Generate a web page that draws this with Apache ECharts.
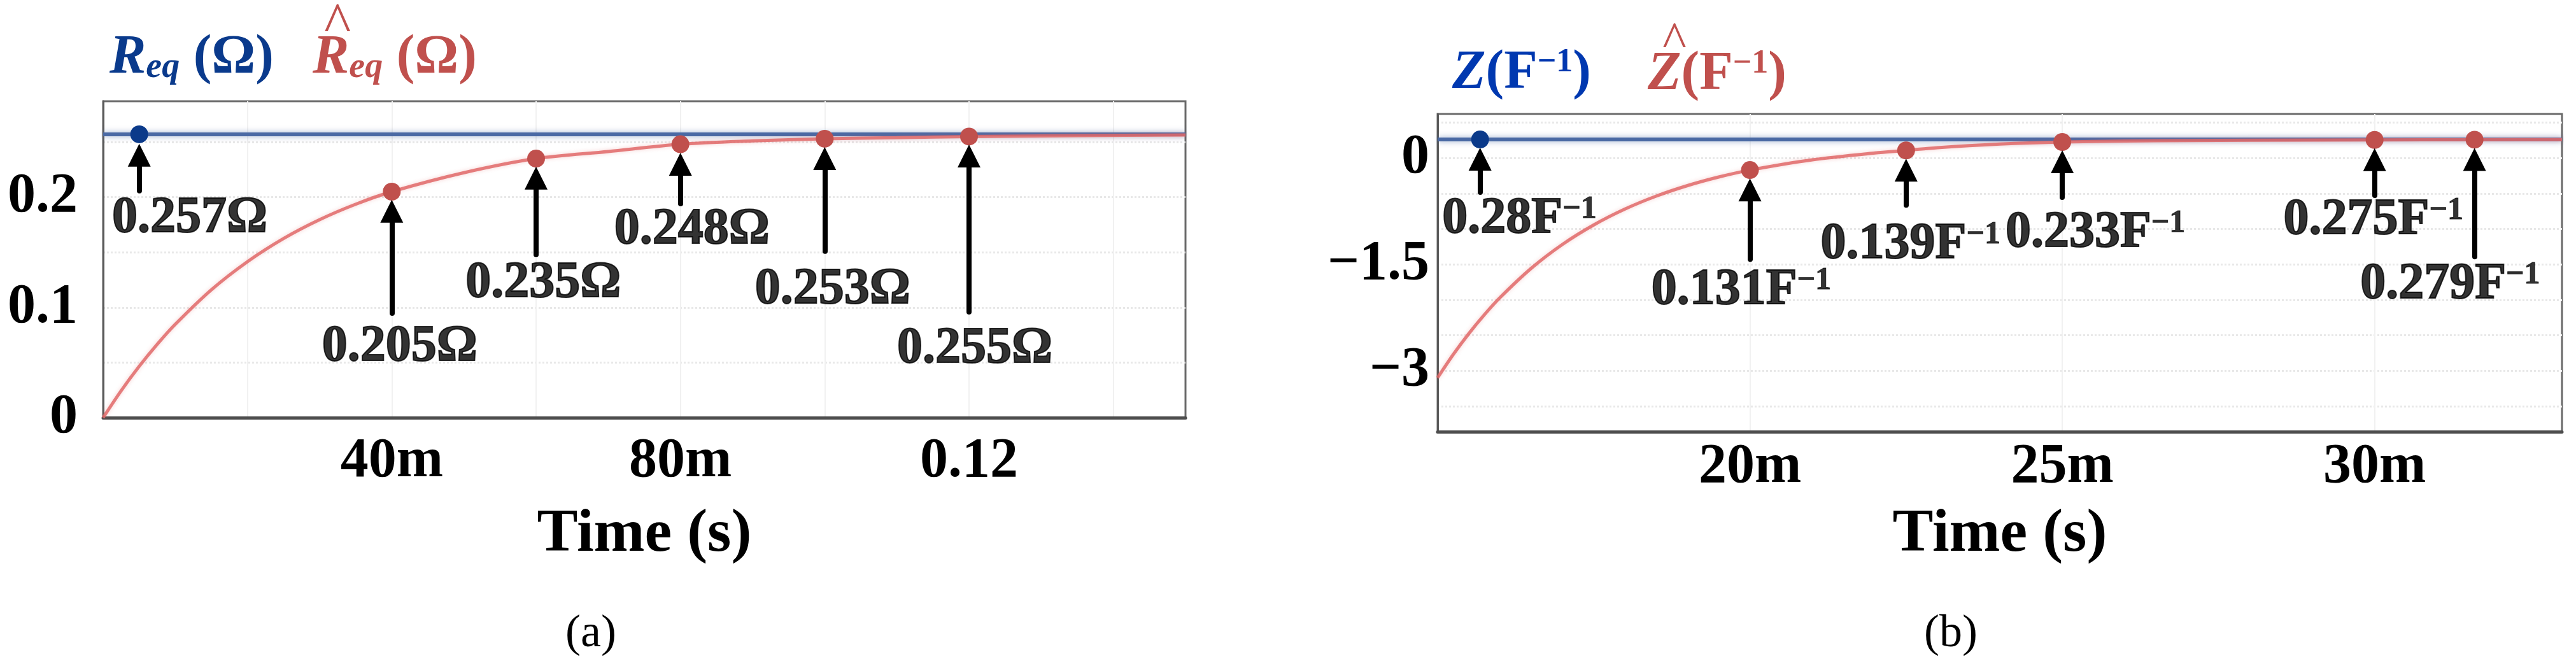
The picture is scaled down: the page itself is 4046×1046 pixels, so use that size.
<!DOCTYPE html>
<html>
<head>
<meta charset="utf-8">
<script src="https://cdn.jsdelivr.net/npm/echarts@6.0.0/dist/echarts.min.js"></script>
<style>
  html, body { margin: 0; padding: 0; background: #fff; }
  #chart { width: 4046px; height: 1046px; }
</style>
</head>
<body>
<div id="chart"></div>
<script>
// ---------- panel (a) : R_eq, time in ms ----------
const timeA = [0, 2.5, 5, 7.5, 10, 15, 20, 25, 30, 35, 40, 50, 60, 70, 80, 90, 100, 110, 120, 135, 150];
const rHatA = [0, 0.0245, 0.0466, 0.0666, 0.0847, 0.116, 0.1415, 0.1625, 0.1796, 0.1936, 0.205, 0.2222, 0.235, 0.2414, 0.248, 0.251, 0.253, 0.254, 0.255, 0.2558, 0.2564];
const reqTimeA = [0, 150];
const reqA = [0.257, 0.257];
// marked points (first one sits on the blue line)
const markTimeA = [5, 40, 60, 80, 100, 120];
const markValA = [0.257, 0.205, 0.235, 0.248, 0.253, 0.255];
const markTextA = ['0.257', '0.205', '0.235', '0.248', '0.253', '0.255'];
// arrow tail / head and label anchors, in data units
const arrowTailA = [0.2057, 0.0947, 0.1479, 0.1941, 0.1508, 0.0959];
const arrowHeadA = [0.238, 0.1872, 0.2172, 0.2299, 0.2351, 0.2374];
const labelTimeA = [12.0, 41.1, 61.0, 81.6, 101.1, 120.8];
const labelValA = [0.1808, 0.0641, 0.1219, 0.1704, 0.1161, 0.0624];
const xTicksA = [40, 80, 120];
const xTickTextA = ['40m', '80m', '0.12'];
const xGridA = [20, 40, 60, 80, 100, 120, 140];
const yTicksA = [0, 0.1, 0.2];
const yGridA = [0.05, 0.1, 0.15, 0.2, 0.25];

// ---------- panel (b) : Z, time in ms ----------
const timeB = [15, 15.25, 15.5, 15.75, 16, 16.5, 17, 17.5, 18, 18.5, 19, 19.5, 20, 21, 22, 22.5, 23, 24, 25, 26, 27, 28, 30, 31.6, 33];
const zHatB = [-3.1, -2.772, -2.476, -2.209, -1.968, -1.555, -1.218, -0.944, -0.72, -0.538, -0.39, -0.269, -0.171, -0.026, 0.07, 0.106, 0.145, 0.195, 0.225, 0.238, 0.245, 0.249, 0.254, 0.257, 0.259];
const zTimeB = [15, 33];
const zB = [0.26, 0.26];
const markTimeB = [15.68, 20, 22.5, 25, 30, 31.6];
const markValB = [0.26, -0.171, 0.106, 0.225, 0.254, 0.257];
const markTextB = ['0.28', '0.131', '0.139', '0.233', '0.275', '0.279'];
const arrowTailB = [-0.485, -1.429, -0.665, -0.557, -0.53, -1.393];
const arrowHeadB = [-0.018, -0.45, -0.172, -0.053, -0.024, -0.021];
const labelTimeB = [16.31, 19.86, 22.57, 25.53, 29.98, 31.21];
const labelValB = [-0.863, -1.869, -1.222, -1.06, -0.88, -1.788];
const xTicksB = [20, 25, 30];
const xTickTextB = ['20m', '25m', '30m'];
const xGridB = [20, 25, 30];
const yTicksB = [-3, -1.5, 0];
const yGridB = [-3.5, -3, -2.5, -2, -1.5, -1, -0.5, 0, 0.5];

const FONT = 'Liberation Serif';
const BLUE_LINE = '#4a69a4';
const BLUE_DOT = '#0b3a8a';
const RED_LINE = '#e06868';
const RED_DOT = '#c0504d';

var dom = document.getElementById('chart');
var myChart = echarts.init(dom, null, { renderer: 'canvas' });

function zip(xs, ys) {
  return xs.map(function (x, i) { return [x, ys[i]]; });
}

function xAxisOf(idx, min, max, ticks, texts, grid, margin, nameGap) {
  return {
    type: 'value', gridIndex: idx, min: min, max: max,
    name: 'Time (s)', nameLocation: 'middle', nameGap: nameGap,
    nameTextStyle: { fontFamily: FONT, fontWeight: 'bold', fontSize: 96, color: '#000' },
    axisLine: { show: true, onZero: false, lineStyle: { color: '#4d4d4d', width: 5 } },
    axisTick: { show: false, customValues: grid },
    axisLabel: {
      customValues: ticks, margin: margin,
      fontFamily: FONT, fontWeight: 'bold', fontSize: 88, color: '#000',
      formatter: function (v) { return texts[ticks.indexOf(v)]; }
    },
    splitLine: { show: true, lineStyle: { color: '#f1f1f1', width: 2 } }
  };
}

function yAxisOf(idx, min, max, ticks, grid, margin) {
  return {
    type: 'value', gridIndex: idx, min: min, max: max,
    axisLine: { show: true, onZero: false, lineStyle: { color: '#5a5a5a', width: 3 } },
    axisTick: { show: false, customValues: grid },
    axisLabel: {
      customValues: ticks, margin: margin,
      fontFamily: FONT, fontWeight: 'bold', fontSize: 88, color: '#000',
      formatter: function (v) { return String(v).replace('-', '\u2212'); }
    },
    splitLine: { show: true, lineStyle: { color: '#e8e8e8', width: 3, type: 'dotted' } }
  };
}

function dotSeries(idx, times, vals) {
  return {
    type: 'scatter', xAxisIndex: idx, yAxisIndex: idx, z: 4,
    symbolSize: 28, data: zip(times, vals),
    itemStyle: { color: function (p) { return p.dataIndex === 0 ? BLUE_DOT : RED_DOT; }, opacity: 1 },
    silent: true
  };
}

function annotSeries(idx, times, tails, heads, lTimes, lVals, fmt, rich) {
  return {
    type: 'scatter', xAxisIndex: idx, yAxisIndex: idx, z: 6,
    symbolSize: 1, itemStyle: { color: 'rgba(0,0,0,0)' },
    data: zip(lTimes, lVals),
    label: {
      show: true, position: [0.5, 0.5], align: 'center', verticalAlign: 'middle',
      color: '#000', textBorderColor: '#000', textBorderWidth: 2,
      fontFamily: FONT, fontWeight: 'bold', fontSize: 80,
      formatter: fmt, rich: rich
    },
    markLine: {
      silent: true, animation: false,
      symbol: ['none', 'triangle'], symbolSize: 36,
      label: { show: false },
      lineStyle: { color: '#000', width: 8, type: 'solid', cap: 'round' },
      emphasis: { disabled: true },
      data: times.map(function (t, i) {
        return [{ coord: [t, tails[i]] }, { coord: [t, heads[i]] }];
      })
    },
    silent: true
  };
}

const supRich = {
  v: { fontFamily: FONT, fontWeight: 'bold', fontSize: 80, lineHeight: 80, color: '#000', textBorderColor: '#000', textBorderWidth: 2 },
  s: { fontFamily: FONT, fontWeight: 'bold', fontSize: 50, lineHeight: 28, verticalAlign: 'top', color: '#000', textBorderColor: '#000', textBorderWidth: 1 }
};

function legendRich(color, sub) {
  return {
    r: { fontFamily: FONT, fontWeight: 'bold', fontStyle: 'italic', fontSize: 86, lineHeight: 86, fill: color },
    s: sub
      ? { fontFamily: FONT, fontWeight: 'bold', fontStyle: 'italic', fontSize: 56, lineHeight: 36, verticalAlign: 'bottom', fill: color }
      : { fontFamily: FONT, fontWeight: 'bold', fontSize: 52, lineHeight: 36, verticalAlign: 'top', fill: color },
    p: { fontFamily: FONT, fontWeight: 'bold', fontSize: 86, lineHeight: 86, fill: color }
  };
}

function legendText(x, y, text, color, sub) {
  return {
    type: 'text', x: x, y: y, z: 10, silent: true,
    style: { text: text, rich: legendRich(color, sub), align: 'left', verticalAlign: 'middle' }
  };
}

function plainText(x, y, text, color, size, weight) {
  return {
    type: 'text', x: x, y: y, z: 10, silent: true,
    style: {
      text: text, fill: color, align: 'center', verticalAlign: 'middle',
      font: weight + ' ' + size + 'px "' + FONT + '"'
    }
  };
}

var option = {
  backgroundColor: '#fff',
  animation: false,
  grid: [
    { left: 162, top: 159, width: 1700, height: 497, show: true, borderColor: '#6a6a6a', borderWidth: 3, outerBoundsMode: 'none' },
    { left: 2258, top: 179, width: 1766, height: 499, show: true, borderColor: '#6a6a6a', borderWidth: 3, outerBoundsMode: 'none' }
  ],
  xAxis: [
    xAxisOf(0, 0, 150, xTicksA, xTickTextA, xGridA, 25, 136),
    xAxisOf(1, 15, 33, xTicksB, xTickTextB, xGridB, 12, 114)
  ],
  yAxis: [
    yAxisOf(0, 0, 0.287, yTicksA, yGridA, 40),
    yAxisOf(1, -3.86, 0.62, yTicksB, yGridB, 13)
  ],
  series: [
    {
      type: 'line', xAxisIndex: 0, yAxisIndex: 0, z: 2, showSymbol: false, silent: true,
      data: zip(reqTimeA, reqA),
      lineStyle: { color: BLUE_LINE, width: 6, shadowColor: 'rgba(74,105,164,0.55)', shadowBlur: 10 }
    },
    {
      type: 'line', xAxisIndex: 0, yAxisIndex: 0, z: 3, showSymbol: false, silent: true, smooth: 0.3,
      data: zip(timeA, rHatA),
      lineStyle: { color: RED_LINE, width: 5, opacity: 0.85, shadowColor: 'rgba(224,104,104,0.35)', shadowBlur: 6 }
    },
    dotSeries(0, markTimeA, markValA),
    annotSeries(0, markTimeA, arrowTailA, arrowHeadA, labelTimeA, labelValA,
      function (p) { return markTextA[p.dataIndex] + '\u03A9'; }, null),
    {
      type: 'line', xAxisIndex: 1, yAxisIndex: 1, z: 2, showSymbol: false, silent: true,
      data: zip(zTimeB, zB),
      lineStyle: { color: BLUE_LINE, width: 6, shadowColor: 'rgba(74,105,164,0.55)', shadowBlur: 10 }
    },
    {
      type: 'line', xAxisIndex: 1, yAxisIndex: 1, z: 3, showSymbol: false, silent: true, smooth: 0.3,
      data: zip(timeB, zHatB),
      lineStyle: { color: RED_LINE, width: 5, opacity: 0.85, shadowColor: 'rgba(224,104,104,0.35)', shadowBlur: 6 }
    },
    dotSeries(1, markTimeB, markValB),
    annotSeries(1, markTimeB, arrowTailB, arrowHeadB, labelTimeB, labelValB,
      function (p) { return '{v|' + markTextB[p.dataIndex] + 'F}{s|\u22121}'; }, supRich)
  ],
  graphic: [
    // legend of (a)
    legendText(172, 92, '{r|R}{s|eq}{p| (\u03A9)}', '#0a3a8c', true),
    legendText(491, 92, '{r|R}{s|eq}{p| (\u03A9)}', RED_DOT, true),
    plainText(530, 42, '^', RED_DOT, 90, 'normal'),
    // legend of (b)
    legendText(2281, 116, '{r|Z}{p|(F}{s|\u22121}{p|)}', '#0038b0', false),
    legendText(2588, 118, '{r|Z}{p|(F}{s|\u22121}{p|)}', RED_DOT, false),
    plainText(2630, 68, '^', RED_DOT, 80, 'normal'),
    // sub-captions
    plainText(928, 996, '(a)', '#000', 72, 'normal'),
    plainText(3064, 996, '(b)', '#000', 72, 'normal')
  ]
};

if (option && typeof option === 'object') {
  myChart.setOption(option);
}
</script>
</body>
</html>
